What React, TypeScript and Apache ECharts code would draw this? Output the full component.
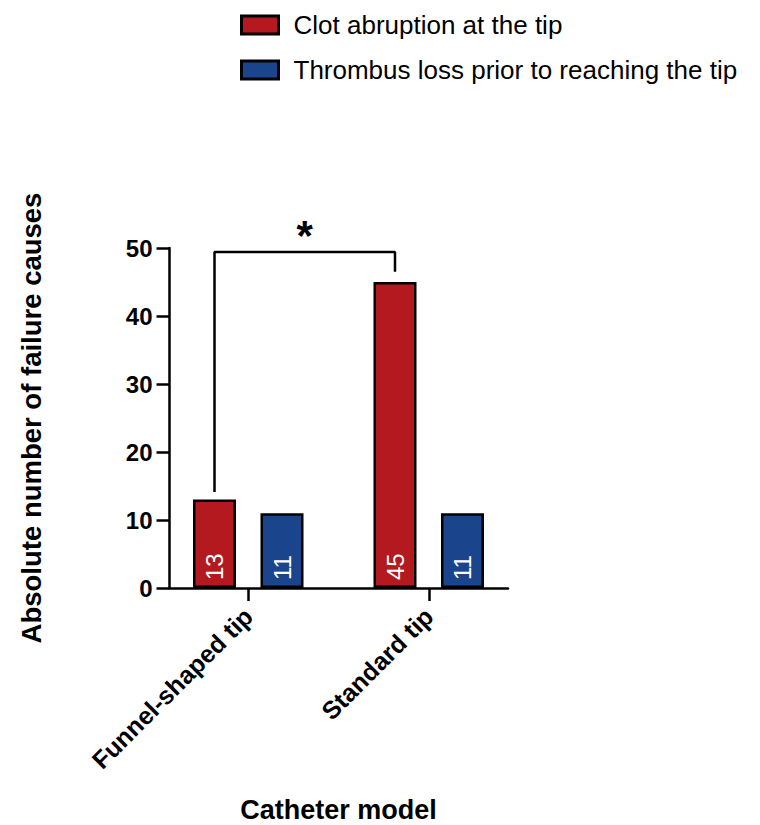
import React, { useEffect, useRef } from "react";
import * as echarts from "echarts";

// Catheter models on the x axis
const categories = ["Funnel-shaped tip", "Standard tip"];
// Failure causes per model
const clotAbruption = [13, 45];
const thrombusLoss = [11, 11];
const seriesNames = ["Clot abruption at the tip", "Thrombus loss prior to reaching the tip"];
// Y axis range
const yMin = 0;
const yMax = 50;
const yStep = 10;
// Significance bracket between the two red bars: [left leg bottom, top, right leg bottom]
const bracketLevels = [14.1, 49.4, 46.5];
const significanceMark = "*";

const FONT = "'Liberation Sans', Arial, Helvetica, sans-serif";
const RED = "#B3191F";
const BLUE = "#1A448C";

// layout (px)
const AXIS_LEFT = 169.5;
const AXIS_RIGHT = 508;
const BAND_LEFT = 158;
const BAND_RIGHT = 519;
const TOP = 248;
const BOTTOM = 588;
const BAR_W = 43;
const BAR_GAP_PX = 24.5;

export default function App() {
  const ref = useRef<HTMLDivElement>(null);

  useEffect(() => {
    if (!ref.current) return;
    const chart = echarts.init(ref.current, undefined, { renderer: "svg" });
    const W = 760;
    const H = 825;
    const bandW = (BAND_RIGHT - BAND_LEFT) / categories.length;
    // centre of the red bar relative to its category centre, in category units
    const redOffset = -((BAR_W + BAR_GAP_PX) / 2) / bandW;
    const xL = 0 + redOffset;
    const xR = 1 + redOffset;
    const bracket = [
      [xL, bracketLevels[0]],
      [xL, bracketLevels[1]],
      [xR, bracketLevels[1]],
      [xR, bracketLevels[2]],
    ];

    const barLabel = {
      show: true,
      position: "insideBottom",
      rotate: 90,
      align: "left",
      verticalAlign: "middle",
      distance: 8,
      color: "#fff",
      fontSize: 24,
      fontFamily: FONT,
    };

    chart.setOption({
      animation: false,
      backgroundColor: "#ffffff",
      textStyle: { fontFamily: FONT },
      legend: {
        orient: "vertical",
        left: 235,
        top: 7,
        itemWidth: 37,
        itemHeight: 18,
        itemGap: 19,
        icon: "rect",
        itemStyle: { borderColor: "#000", borderWidth: 3 },
        textStyle: {
          fontSize: 26,
          lineHeight: 26,
          color: "#000",
          fontFamily: FONT,
          padding: [0, 0, 0, 10],
        },
        data: seriesNames,
      },
      grid: [
        { left: AXIS_LEFT, right: W - AXIS_RIGHT, top: TOP, bottom: H - BOTTOM },
        { left: BAND_LEFT, right: W - BAND_RIGHT, top: TOP, bottom: H - BOTTOM },
      ],
      xAxis: [
        {
          type: "value",
          gridIndex: 0,
          min: 0,
          max: 1,
          axisLine: { show: true, lineStyle: { color: "#000", width: 2.5 } },
          axisTick: { show: false },
          axisLabel: { show: false },
          splitLine: { show: false },
        },
        {
          type: "category",
          gridIndex: 1,
          data: categories,
          name: "Catheter model",
          nameLocation: "middle",
          nameGap: 208,
          nameTextStyle: { fontSize: 27, fontWeight: "bold", color: "#000", fontFamily: FONT },
          axisLine: { show: false },
          axisTick: { show: true, alignWithLabel: true, length: 13, lineStyle: { color: "#000", width: 2.5 } },
          axisLabel: {
            rotate: 45,
            margin: 24,
            fontSize: 25,
            fontWeight: "bold",
            color: "#000",
            fontFamily: FONT,
          },
          splitLine: { show: false },
        },
        {
          type: "value",
          gridIndex: 1,
          min: -0.5,
          max: 1.5,
          show: false,
        },
      ],
      yAxis: [
        {
          type: "value",
          gridIndex: 0,
          min: yMin,
          max: yMax,
          interval: yStep,
          name: "Absolute number of failure causes",
          nameLocation: "middle",
          nameGap: 124,
          nameTextStyle: { fontSize: 27.5, fontWeight: "bold", color: "#000", fontFamily: FONT },
          axisLine: { show: true, lineStyle: { color: "#000", width: 2.5 } },
          axisTick: { show: true, length: 13, lineStyle: { color: "#000", width: 2.5 } },
          axisLabel: { fontSize: 24, fontWeight: "bold", color: "#000", margin: 17, fontFamily: FONT },
          splitLine: { show: false },
        },
        {
          type: "value",
          gridIndex: 1,
          min: yMin,
          max: yMax,
          show: false,
        },
      ],
      series: [
        {
          name: seriesNames[0],
          type: "bar",
          xAxisIndex: 1,
          yAxisIndex: 1,
          data: clotAbruption,
          barWidth: BAR_W,
          barGap: `${(BAR_GAP_PX / BAR_W) * 100}%`,
          itemStyle: { color: RED, borderColor: "#000", borderWidth: 2.5 },
          label: barLabel,
        },
        {
          name: seriesNames[1],
          type: "bar",
          xAxisIndex: 1,
          yAxisIndex: 1,
          data: thrombusLoss,
          barWidth: BAR_W,
          itemStyle: { color: BLUE, borderColor: "#000", borderWidth: 2.5 },
          label: barLabel,
        },
        {
          name: "bracket",
          type: "line",
          xAxisIndex: 2,
          yAxisIndex: 1,
          data: bracket,
          symbol: "none",
          clip: false,
          silent: true,
          lineStyle: { color: "#000", width: 2.5 },
          markPoint: {
            symbol: "circle",
            symbolSize: 0,
            data: [{ coord: [(xL + xR) / 2, bracketLevels[1]] }],
            label: {
              show: true,
              formatter: significanceMark,
              position: "top",
              distance: -4,
              fontSize: 42,
              fontWeight: "bold",
              color: "#000",
              fontFamily: FONT,
            },
          },
        },
      ],
    });
    return () => chart.dispose();
  }, []);

  return (
    <div
      ref={ref}
      style={{ position: "fixed", left: 0, top: 0, width: 760, height: 825, background: "#fff" }}
    />
  );
}
